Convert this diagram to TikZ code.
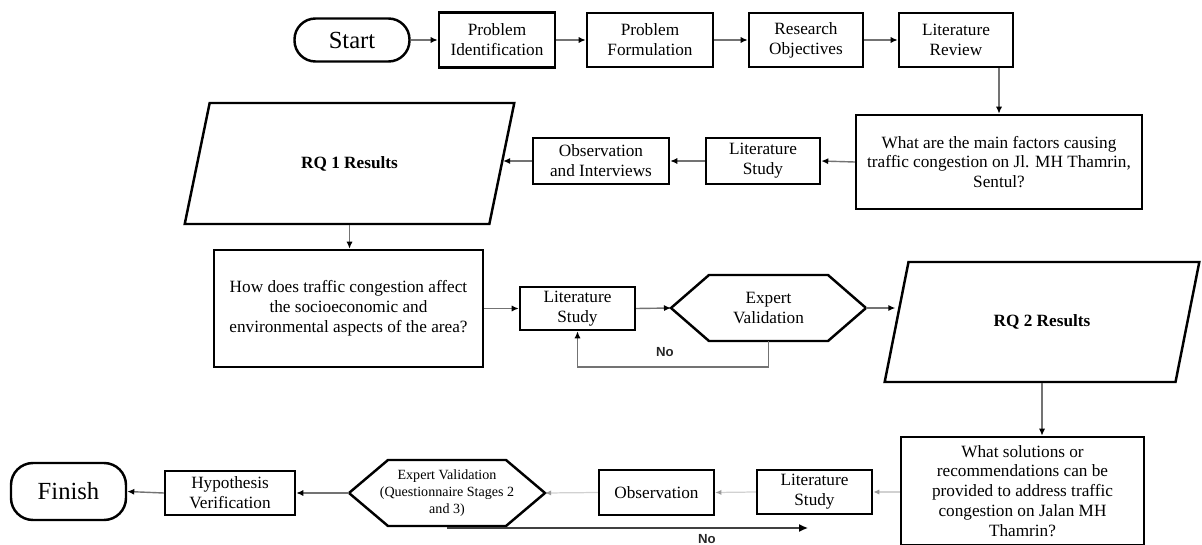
\documentclass[tikz,border=0pt]{standalone}
\usepackage{fontspec}
\setmainfont{Liberation Serif}
\newfontfamily\labelfont{Liberation Sans}
\usetikzlibrary{calc,arrows.meta,shapes.geometric}

\tikzset{
	box/.style={draw, line width=1.4pt, fill=white, align=center, inner sep=0.5pt, font=\fontsize{9.8}{11.3}\selectfont},
	term/.style={box, rounded corners=4.2mm, font=\fontsize{14}{16}\selectfont},
	iobox/.style={box, trapezium, trapezium left angle=62, trapezium right angle=118, trapezium stretches=true, font=\bfseries\fontsize{9.8}{11.3}\selectfont},
	hexbox/.style={align=center, inner sep=0pt, outer sep=0pt, font=\fontsize{9.8}{11.3}\selectfont},
	hexline/.style={line width=1.4pt},
	flow/.style={draw=black!55, line width=0.8pt, -{Latex[length=4pt,width=3.5pt,color=black]}},
	fadeflow/.style={draw=black!18, line width=0.7pt, -{Latex[length=3.5pt,width=3pt,color=black!40]}},
	noflow/.style={draw=black!75, line width=0.8pt, -{Latex[length=5pt,width=4.5pt,color=black]}},
	nolabel/.style={font=\labelfont\bfseries\fontsize{7.5}{8}\selectfont, text=black!85, inner sep=0pt}
}

\begin{document}
\begin{tikzpicture}[x=0.2mm, y=-0.2mm]
		%%%%% START %%%%%
		\useasboundingbox (0,0) rectangle (1202,545);
		
		% top row
		\node[term, minimum width=23mm, minimum height=8.6mm] (start) at (352,40) {Start};
		\node[box, minimum width=23.2mm, minimum height=11mm] (pident) at (497,40) {Problem\\Identification};
		\node[box, minimum width=25.2mm, minimum height=10.8mm] (pform) at (650,40) {Problem\\Formulation};
		\node[box, minimum width=22.8mm, minimum height=10.8mm] (robj) at (806,40) {Research\\Objectives};
		\node[box, minimum width=22.8mm, minimum height=10.8mm] (lrev) at (956,40) {Literature\\Review};
		
		% RQ 1
		\node[box, minimum width=57.2mm, minimum height=18.8mm] (rqone) at (999,162) {What are the main factors causing\\traffic congestion on Jl. MH Thamrin,\\Sentul?};
		\node[box, minimum width=22.8mm, minimum height=9.2mm] (lstudyA) at (763,161) {Literature\\Study};
		\node[box, minimum width=27.2mm, minimum height=9.2mm] (obsA) at (601,161) {Observation\\and Interviews};
		\node[iobox, minimum width=66.2mm, minimum height=24.2mm] (resA) at (349.5,163.5) {RQ 1 Results};
		
		% RQ 2
		\node[box, minimum width=53.8mm, minimum height=23.4mm] (rqtwo) at (348.5,308.5) {How does traffic congestion affect\\the socioeconomic and\\environmental aspects of the area?};
		\node[box, minimum width=23mm, minimum height=8.6mm] (lstudyB) at (577.5,308.5) {Literature\\Study};
		\node[hexbox, minimum width=39mm, minimum height=13.2mm] (expvalA) at (768.5,308) {Expert\\Validation};
		\draw[hexline] (expvalA.west) -- ($(expvalA.north west)+(38,0)$) -- ($(expvalA.north east)+(-38,0)$) -- (expvalA.east) -- ($(expvalA.south east)+(-38,0)$) -- ($(expvalA.south west)+(38,0)$) -- cycle;
		\node[iobox, minimum width=63.2mm, minimum height=24mm] (resB) at (1042,322) {RQ 2 Results};
		
		% RQ 3
		\node[box, minimum width=48.6mm, minimum height=21.6mm] (rqthree) at (1022.5,491) {What solutions or\\recommendations can be\\provided to address traffic\\congestion on Jalan MH\\Thamrin?};
		\node[box, minimum width=23mm, minimum height=8.8mm] (lstudyC) at (814.5,492) {Literature\\Study};
		\node[box, minimum width=23mm, minimum height=9mm] (obsC) at (656.5,492.5) {Observation};
		\node[hexbox, minimum width=39.2mm, minimum height=13.2mm, font=\fontsize{8}{9.6}\selectfont] (expvalB) at (447,493) {Expert Validation\\(Questionnaire Stages 2\\and 3)};
		\draw[hexline] (expvalB.west) -- ($(expvalB.north west)+(39,0)$) -- ($(expvalB.north east)+(-39,0)$) -- (expvalB.east) -- ($(expvalB.south east)+(-39,0)$) -- ($(expvalB.south west)+(39,0)$) -- cycle;
		\node[box, minimum width=26mm, minimum height=8.8mm] (hypo) at (230,493) {Hypothesis\\Verification};
		\node[term, minimum width=23mm, minimum height=11.4mm, rounded corners=4.4mm] (finish) at (68.5,491.5) {Finish};
		
		% arrows
		\draw[flow] (start) -- (pident);
		\draw[flow] (pident) -- (pform);
		\draw[flow] (pform) -- (robj);
		\draw[flow] (robj) -- (lrev);
		\draw[flow] (rqone.north |- lrev.south) -- (rqone.north);
		\draw[flow] (rqone.west) -- (lstudyA.east);
		\draw[flow] (lstudyA.west) -- (obsA.east);
		\draw[flow] (obsA.west) -- (obsA.west -| resA.east);
		\draw[flow] (resA.south) -- (resA.south |- rqtwo.north);
		\draw[flow] (rqtwo.east |- lstudyB) -- (lstudyB.west);
		\draw[flow] (lstudyB.east) -- (expvalA.west);
		\draw[flow] (expvalA.south) -- ++(0,26) -| (lstudyB.south);
		\node[nolabel] (noA) at (665,352) {No};
		\draw[flow] (expvalA.east) -- (expvalA.east -| resB.west);
		\draw[flow] (resB.south) -- (resB.south |- rqthree.north);
		\draw[fadeflow] (rqthree.west |- lstudyC) -- (lstudyC.east);
		\draw[fadeflow] (lstudyC.west) -- (obsC.east);
		\draw[fadeflow] (obsC.west) -- (expvalB.east);
		\draw[flow] (expvalB.west) -- (hypo.east);
		\draw[flow] (hypo.west) -- (finish.east);
		\coordinate (noend) at (808,528);
		\draw[noflow] (expvalB.south |- noend) -- (noend);
		\node[nolabel] (noB) at (707,539) {No};
		
		%%%%% END %%%%%
	\end{tikzpicture}
\end{document}
